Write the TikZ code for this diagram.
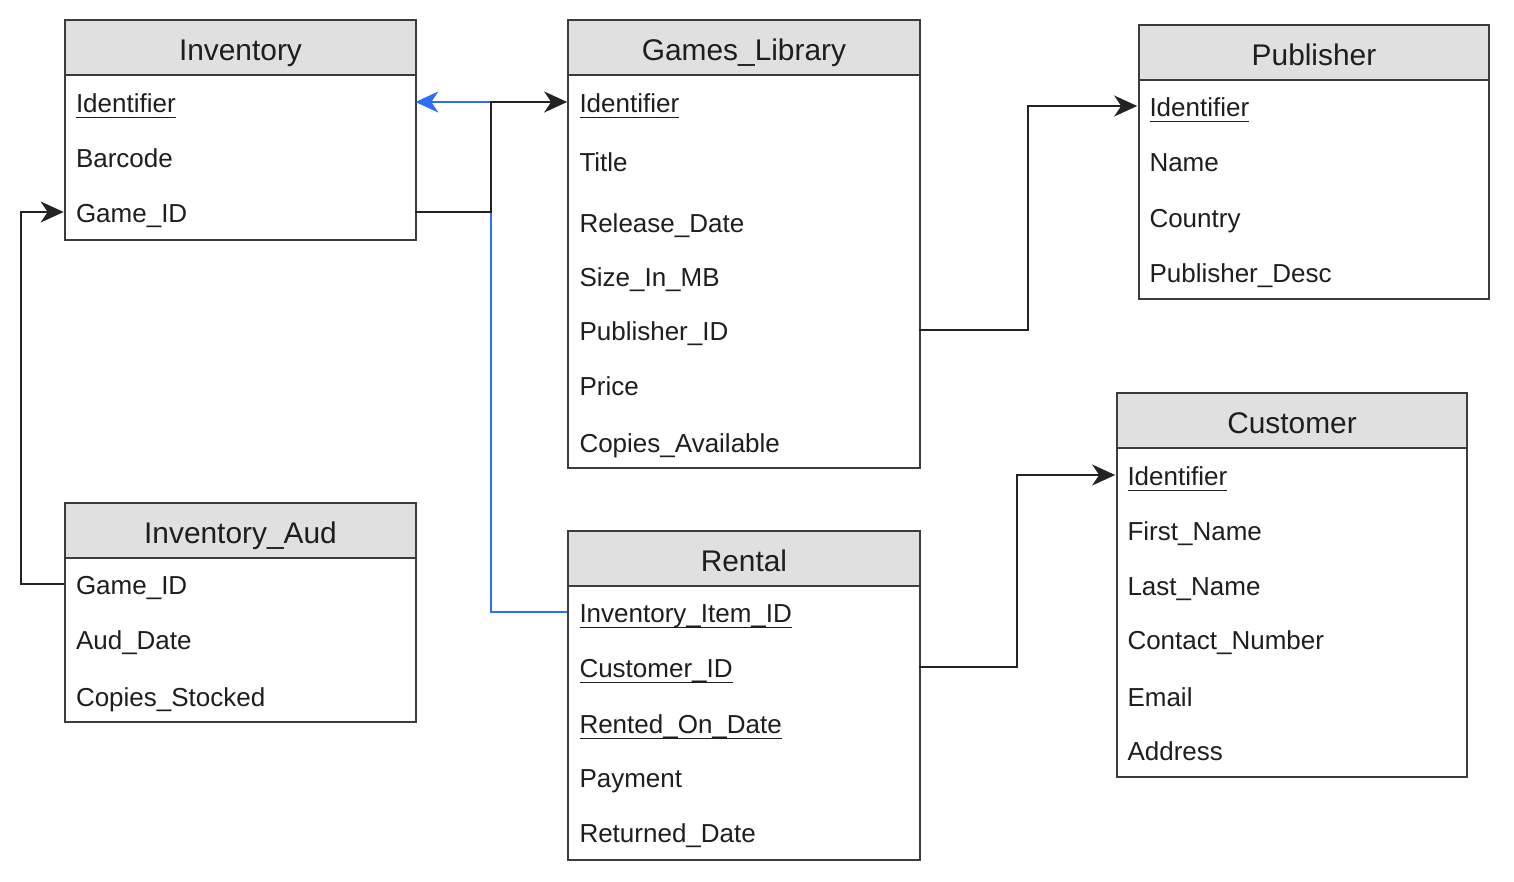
\documentclass[tikz,border=0pt]{standalone}
\usepackage{fontspec}
\setmainfont{Liberation Sans}
\usetikzlibrary{arrows.meta,calc}
\definecolor{bordc}{RGB}{60,60,60}
\definecolor{hdrc}{RGB}{224,224,224}
\definecolor{txtc}{RGB}{30,30,30}
\definecolor{linec}{RGB}{35,35,35}
\definecolor{bluec}{RGB}{45,110,245}
\newcommand\ulbox[1]{\setbox0\hbox{#1}\rlap{\rule[-3pt]{\wd0}{0.7pt}}\box0}
\tikzset{
  body/.style={draw=bordc, fill=white, line width=1.1pt, anchor=north west, inner sep=0pt},
  hdr/.style={draw=bordc, fill=hdrc, line width=1.1pt, anchor=north west, inner sep=0pt,
    minimum height=55*0.02cm, text height=0.52cm, text depth=0pt,
    font=\fontsize{17}{20}\selectfont, text=txtc},
  row/.style={inner xsep=12*0.02cm, inner ysep=0pt, align=left, text=txtc,
    text height=0.43cm, text depth=0pt, font=\fontsize{14.8}{17}\selectfont},
  rowA/.style={row, text width=327*0.02cm},
  conn/.style={draw=linec, line width=1.1pt},
  bconn/.style={draw=bluec, line width=1.1pt},
  tip/.style={-{Stealth[length=0.46cm, width=0.42cm, inset=0.14cm]}}
}
\begin{document}
\begin{tikzpicture}[x=0.02cm, y=-0.02cm]
\useasboundingbox (0,0) rectangle (1514,882);
% Inventory
\node[body, minimum width=351*0.02cm, minimum height=220*0.02cm] (inv) at (64,19) {};
\node[hdr, minimum width=351*0.02cm] (inv-h) at (64,19) {Inventory};
\node[rowA] (inv-id) at (239.5,102) {\ulbox{Identifier}};
\node[rowA] (inv-bc) at (239.5,157) {Barcode};
\node[rowA] (inv-gid) at (239.5,212) {Game\_ID};
% Games_Library
\node[body, minimum width=352*0.02cm, minimum height=448*0.02cm] (gl) at (567,19) {};
\node[hdr, minimum width=352*0.02cm] (gl-h) at (567,19) {Games\_Library};
\node[rowA] (gl-id) at (743,102) {\ulbox{Identifier}};
\node[rowA] (gl-t) at (743,161) {Title};
\node[rowA] (gl-rd) at (743,222) {Release\_Date};
\node[rowA] (gl-sz) at (743,276) {Size\_In\_MB};
\node[rowA] (gl-pid) at (743,330) {Publisher\_ID};
\node[rowA] (gl-pr) at (743,385) {Price};
\node[rowA] (gl-ca) at (743,442) {Copies\_Available};
% Publisher
\node[body, minimum width=350*0.02cm, minimum height=274*0.02cm] (pub) at (1138,24) {};
\node[hdr, minimum width=350*0.02cm] (pub-h) at (1138,24) {Publisher};
\node[rowA] (pub-id) at (1313,106) {\ulbox{Identifier}};
\node[rowA] (pub-nm) at (1313,161) {Name};
\node[rowA] (pub-ct) at (1313,217) {Country};
\node[rowA] (pub-ds) at (1313,272) {Publisher\_Desc};
% Customer
\node[body, minimum width=350*0.02cm, minimum height=384*0.02cm] (cus) at (1116,392) {};
\node[hdr, minimum width=350*0.02cm] (cus-h) at (1116,392) {Customer};
\node[rowA] (cus-id) at (1291,475) {\ulbox{Identifier}};
\node[rowA] (cus-fn) at (1291,530) {First\_Name};
\node[rowA] (cus-ln) at (1291,585) {Last\_Name};
\node[rowA] (cus-cn) at (1291,639) {Contact\_Number};
\node[rowA] (cus-em) at (1291,696) {Email};
\node[rowA] (cus-ad) at (1291,750) {Address};
% Inventory_Aud
\node[body, minimum width=351*0.02cm, minimum height=219*0.02cm] (aud) at (64,502) {};
\node[hdr, minimum width=351*0.02cm] (aud-h) at (64,502) {Inventory\_Aud};
\node[rowA] (aud-gid) at (239.5,584) {Game\_ID};
\node[rowA] (aud-ad) at (239.5,639) {Aud\_Date};
\node[rowA] (aud-cs) at (239.5,696) {Copies\_Stocked};
% Rental
\node[body, minimum width=352*0.02cm, minimum height=329*0.02cm] (ren) at (567,530) {};
\node[hdr, minimum width=352*0.02cm] (ren-h) at (567,530) {Rental};
\node[rowA] (ren-iid) at (743,612) {\ulbox{Inventory\_Item\_ID}};
\node[rowA] (ren-cid) at (743,667) {\ulbox{Customer\_ID}};
\node[rowA] (ren-rod) at (743,723) {\ulbox{Rented\_On\_Date}};
\node[rowA] (ren-pay) at (743,777) {Payment};
\node[rowA] (ren-ret) at (743,832) {Returned\_Date};
% junction columns
\coordinate (jx) at (491,0);
\coordinate (jl) at (21,0);
\coordinate (jp) at (1028,0);
\coordinate (jc) at (1017,0);
% connectors
\draw[bconn, tip] (ren-iid.west) -- (ren-iid.west -| jx) |- (inv-id.east);
\draw[conn, tip] (inv-gid.east) -- (inv-gid.east -| jx) |- (gl-id.west);
\draw[conn, tip] (aud-gid.west) -- (aud-gid.west -| jl) |- (inv-gid.west);
\draw[conn, tip] (gl-pid.east) -- (gl-pid.east -| jp) |- (pub-id.west);
\draw[conn, tip] (ren-cid.east) -- (ren-cid.east -| jc) |- (cus-id.west);
\end{tikzpicture}
\end{document}
